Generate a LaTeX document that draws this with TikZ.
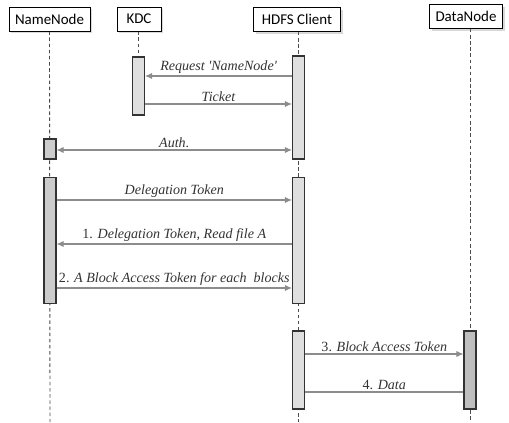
\documentclass[tikz,border=0pt]{standalone}
\usepackage{fontspec}
\newfontfamily\headfont{Carlito}
\newfontfamily\msgfont{Liberation Serif}
\usetikzlibrary{arrows.meta,backgrounds,positioning,shadows}

\begin{document}
\begin{tikzpicture}[x=0.02cm,y=-0.02cm,>={Latex[length=4pt,width=3.5pt]},
	actor/.style={draw,thin,fill=white,font=\headfont\fontsize{8.5}{10}\selectfont,minimum height=24*0.02cm,inner xsep=3pt,drop shadow={shadow xshift=1.2pt,shadow yshift=-1.2pt,opacity=0.3}},
	bar/.style={draw=black!80,line width=0.6pt,fill=#1,minimum width=12*0.02cm,inner sep=0pt},
	life/.style={draw=black!70,dashed,dash pattern=on 2pt off 1.5pt,line width=0.5pt},
	msg/.style={draw=black!45,line width=0.6pt,->},
	lbl/.style={above,inner sep=1pt,font=\msgfont\itshape\fontsize{8}{9}\selectfont,text=black!80}]
	\useasboundingbox (0,0) rectangle (509,422);

	\node[actor,minimum width=81*0.02cm] (nn) at (49.5,19) {NameNode};
	\node[actor,minimum width=44*0.02cm] (kdc) at (139,19) {KDC};
	\node[actor,minimum width=87*0.02cm] (cl) at (297,19.5) {HDFS Client};
	\node[actor,minimum width=73*0.02cm] (dn) at (466,16.5) {DataNode};

	\node[bar=gray!25,minimum height=58*0.02cm] (kdc1) at (138.5,86) {};
	\node[bar=gray!25,minimum height=103*0.02cm] (cl1) at (298.5,107.5) {};
	\node[bar=gray!40,minimum height=20*0.02cm] (nn1) at (50,149) {};
	\node[bar=gray!40,minimum height=126*0.02cm] (nn2) at (50,240.5) {};
	\node[bar=gray!25,minimum height=126*0.02cm] (cl2) at (298.5,240.5) {};
	\node[bar=gray!25,minimum height=78*0.02cm] (cl3) at (298.5,370) {};
	\node[bar=gray!50,minimum height=78*0.02cm] (dn1) at (470,370) {};

	\coordinate (nnend) at (50,422);
	\coordinate (clend) at (298.5,422);
	\coordinate (dnend) at (470,422);

	\begin{scope}[on background layer]
		\draw[life] (nn.south) -- (nnend);
		\draw[life] (kdc.south -| kdc1) -- (kdc1.north);
		\draw[life] (cl.south -| cl1) -- (clend);
		\draw[life] (dn.south -| dn1) -- (dnend);
	\end{scope}

	\draw[msg] (cl1.west |- 0,76) -- node[lbl] {Request 'NameNode'} (kdc1.east |- 0,76);
	\draw[msg] (kdc1.east |- 0,104) -- node[lbl] {Ticket} (cl1.west |- 0,104);
	\draw[msg,<->] (nn1.east |- 0,150) -- node[lbl] {Auth.} (cl1.west |- 0,150);
	\draw[msg] (nn2.east |- 0,200) -- node[lbl] {Delegation Token} (cl2.west |- 0,200);
	\draw[msg] (cl2.west |- 0,244) -- node[lbl] {\upshape1. \itshape Delegation Token, Read file A} (nn2.east |- 0,244);
	\draw[msg] (nn2.east |- 0,288) -- node[lbl] {\upshape2. \itshape A Block Access Token for each\ \ blocks} (cl2.west |- 0,288);
	\draw[msg] (cl3.east |- 0,354) -- node[lbl] {\upshape3. \itshape Block Access Token} (dn1.west |- 0,354);
	\draw[msg,-] (dn1.west |- 0,392) -- node[lbl] {\upshape4. \itshape Data} (cl3.east |- 0,392);
\end{tikzpicture}
\end{document}
